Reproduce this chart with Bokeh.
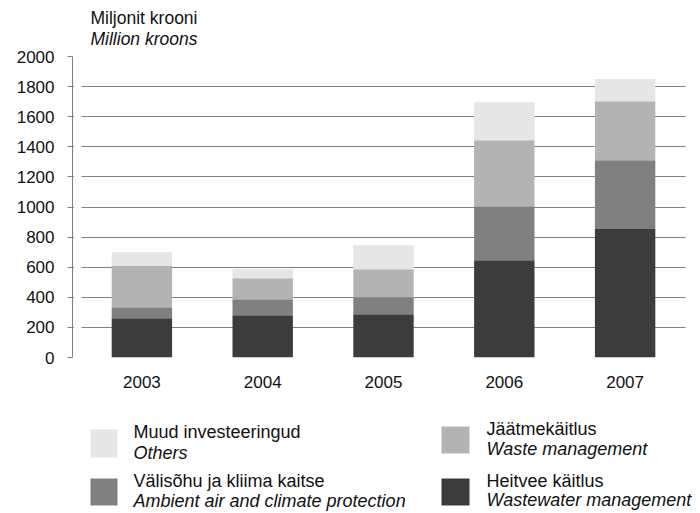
from bokeh.plotting import figure
from bokeh.models import ColumnDataSource, FixedTicker, Range1d, BoxAnnotation, Column
from bokeh.core.properties import value
from bokeh.embed import file_html
from bokeh.resources import INLINE

# ---------------- data ----------------
years = ["2003", "2004", "2005", "2006", "2007"]
wastewater = [261, 281, 288, 647, 853]   # Heitvee käitlus
air = [73, 106, 113, 358, 458]           # Välisõhu ja kliima kaitse
waste = [275, 140, 186, 439, 392]        # Jäätmekäitlus
others = [91, 60, 159, 252, 147]         # Muud investeeringud
y_ticks = [0, 200, 400, 600, 800, 1000, 1200, 1400, 1600, 1800, 2000]

series_keys = ["wastewater", "air", "waste", "others"]
series_colors = ["#3c3c3c", "#808080", "#b3b3b3", "#e6e6e6"]
legend_et = ["Heitvee käitlus", "Välisõhu ja kliima kaitse", "Jäätmekäitlus", "Muud investeeringud"]
legend_en = ["Wastewater management", "Ambient air and climate protection", "Waste management", "Others"]
title_et = "Miljonit krooni"
title_en = "Million kroons"

FONT = "Liberation Sans"
TXT = "#111111"
GRID = "#808080"

# ---------------- geometry ----------------
W = 700
BL, BR = 72, 5            # left / right borders shared by all three figures
HT = 49                   # title strip height
H1 = 356                  # chart height
H2 = 513 - HT - H1        # legend strip height
FX0, FX1 = BL, W - BR     # frame x extent in page pixels
LG_TOP = HT + H1
TEXT_SHIFT = 7            # renderer places the alphabetic baseline ~7px low

xs = list(range(len(years)))
X_START = -0.5 - 9 / 121.0
X_END = len(years) - 0.5 + 10 / 121.0

# ---------------- title strip ----------------
tf = figure(width=W, height=HT, x_range=Range1d(FX0, FX1), y_range=Range1d(HT, 0),
            output_backend="svg", toolbar_location=None,
            min_border_left=BL, min_border_right=BR, min_border_top=0, min_border_bottom=0,
            x_axis_location=None, y_axis_location=None)
tf.outline_line_color = None
tf.xgrid.visible = False
tf.ygrid.visible = False
tsrc = ColumnDataSource(dict(x=[90, 90], y=[24 - TEXT_SHIFT, 45 - TEXT_SHIFT],
                             t=[title_et, title_en], st=["normal", "italic"]))
tf.text(x="x", y="y", text="t", text_font_style="st", source=tsrc, text_font=value(FONT),
        text_font_size=value("17.5px"), text_color=TXT, text_baseline=value("alphabetic"))

# ---------------- chart ----------------
p = figure(width=W, height=H1, x_range=Range1d(X_START, X_END),
           y_range=Range1d(y_ticks[0], y_ticks[-1]),
           output_backend="svg", toolbar_location=None,
           min_border_left=BL, min_border_right=BR, min_border_top=7, min_border_bottom=48)
p.outline_line_color = None
p.background_fill_color = "white"
p.border_fill_color = "white"

src = ColumnDataSource(dict(x=xs, wastewater=wastewater, air=air, waste=waste, others=others))
p.vbar_stack(series_keys, x="x", width=0.5, fill_color=series_colors, line_color=None, source=src)

p.xgrid.grid_line_color = None
p.ygrid.ticker = FixedTicker(ticks=y_ticks)
p.ygrid.grid_line_color = GRID
p.ygrid.grid_line_width = 1

p.yaxis.ticker = FixedTicker(ticks=y_ticks)
p.yaxis.axis_line_color = GRID
p.yaxis.major_tick_line_color = GRID
p.yaxis.major_tick_out = 5
p.yaxis.major_tick_in = 0
p.yaxis.minor_tick_line_color = None
p.yaxis.major_label_text_font = FONT
p.yaxis.major_label_text_font_size = "17px"
p.yaxis.major_label_text_color = TXT
p.yaxis.major_label_standoff = 13

p.xaxis.ticker = FixedTicker(ticks=xs)
p.xaxis.major_label_overrides = {i: y for i, y in zip(xs, years)}
p.xaxis.axis_line_color = None
p.xaxis.major_tick_line_color = None
p.xaxis.minor_tick_line_color = None
p.xaxis.major_label_text_font = FONT
p.xaxis.major_label_text_font_size = "17px"
p.xaxis.major_label_text_color = TXT
p.xaxis.major_label_standoff = 12

# white strips: the grid lines start a little right of the y axis and stop before the edge
p.add_layout(BoxAnnotation(left=X_START + 0.012, right=-0.5, fill_color="white", fill_alpha=1.0,
                           line_color=None))
p.add_layout(BoxAnnotation(left=len(years) - 0.5, right=X_END, fill_color="white", fill_alpha=1.0,
                           line_color=None))

# ---------------- legend strip ----------------
lg = figure(width=W, height=H2, x_range=Range1d(FX0, FX1), y_range=Range1d(LG_TOP + H2, LG_TOP),
            output_backend="svg", toolbar_location=None,
            min_border_left=BL, min_border_right=BR, min_border_top=0, min_border_bottom=0,
            x_axis_location=None, y_axis_location=None)
lg.outline_line_color = None
lg.xgrid.visible = False
lg.ygrid.visible = False

# layout of legend entries (page pixels, same order as series_keys)
sq_left = [441, 90, 441, 90]
sq_right = [469, 117, 469, 117]
text_x = [486, 133, 486, 133]
sq_top = [478, 478, 426, 429]
sq_bottom = [505, 505, 453, 457]
base1 = [b - TEXT_SHIFT for b in [487, 487, 435, 438]]
base2 = [b - TEXT_SHIFT for b in [506, 507, 455, 459]]

lsrc = ColumnDataSource(dict(left=sq_left, right=sq_right, top=sq_top, bottom=sq_bottom,
                             color=series_colors, tx=text_x, b1=base1, b2=base2,
                             et=legend_et, en=legend_en))
lg.quad(left="left", right="right", top="top", bottom="bottom", fill_color="color",
        line_color=None, source=lsrc)
lg.text(x="tx", y="b1", text="et", source=lsrc, text_font=value(FONT),
        text_font_size=value("18px"), text_color=TXT, text_baseline=value("alphabetic"))
lg.text(x="tx", y="b2", text="en", source=lsrc, text_font=value(FONT),
        text_font_size=value("18px"), text_font_style=value("italic"), text_color=TXT,
        text_baseline=value("alphabetic"))

layout = Column(tf, p, lg, spacing=0)
open("out.html", "w").write(file_html(layout, INLINE))
